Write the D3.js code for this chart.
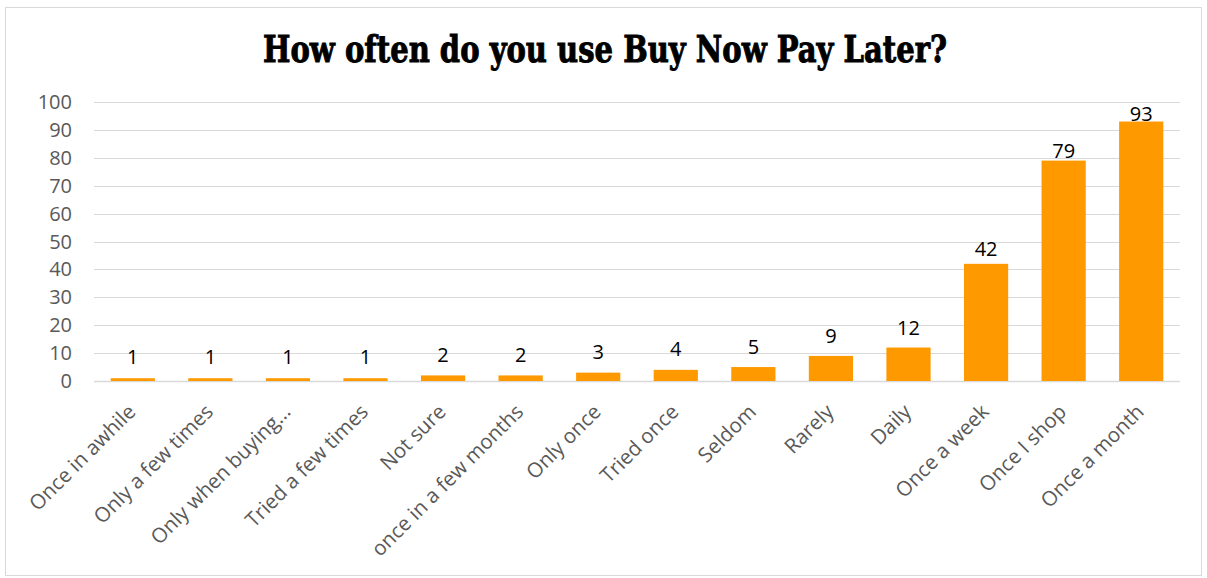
<!DOCTYPE html>
<html>
<head>
<meta charset="utf-8">
<script src="https://cdn.jsdelivr.net/npm/d3@7"></script>
<style>
  body { margin: 0; background: #fff; }
  svg { display: block; }
</style>
</head>
<body>
<div id="chart"></div>
<script>
// data
const categories = ["Once in awhile", "Only a few times", "Only when buying...", "Tried a few times",
  "Not sure", "once in a few months", "Only once", "Tried once", "Seldom", "Rarely", "Daily",
  "Once a week", "Once I shop", "Once a month"];
const counts = [1, 1, 1, 1, 2, 2, 3, 4, 5, 9, 12, 42, 79, 93];
const yTicks = [0, 10, 20, 30, 40, 50, 60, 70, 80, 90, 100];

const width = 1207, height = 578;
const margin = {top: 102, right: 27, bottom: 197, left: 94};

const svg = d3.select("#chart").append("svg")
    .attr("width", width)
    .attr("height", height);

// chart border
svg.append("rect")
    .attr("x", 5.5).attr("y", 7.5)
    .attr("width", width - 11).attr("height", height - 10)
    .attr("fill", "none")
    .attr("stroke", "#d9d9d9");

svg.append("text")
    .attr("x", 605).attr("y", 62)
    .attr("text-anchor", "middle")
    .attr("textLength", 684)
    .attr("lengthAdjust", "spacingAndGlyphs")
    .attr("stroke", "#000")
    .attr("stroke-width", 0.9)
    .style("font-family", "'DejaVu Serif Condensed', 'DejaVu Serif', serif")
    .style("font-weight", "bold")
    .style("font-size", "37px")
    .text("How often do you use Buy Now Pay Later?");

const x = d3.scaleBand()
    .domain(categories)
    .range([margin.left, width - margin.right])
    .paddingInner(0.43)
    .paddingOuter(0.215);

const y = d3.scaleLinear()
    .domain([0, 100])
    .range([height - margin.bottom, margin.top]);

// the value labels in the picture sit on a slightly squeezed scale
const yLabel = d3.scaleLinear()
    .domain([0, 100])
    .range([367, 102]);

// gridlines
svg.append("g")
    .selectAll("line").data(yTicks)
    .enter().append("line")
    .attr("x1", margin.left).attr("x2", width - margin.right)
    .attr("y1", d => Math.round(y(d)) + 0.5).attr("y2", d => Math.round(y(d)) + 0.5)
    .attr("stroke", "#d9d9d9")
    .attr("stroke-width", d => d === 0 ? 1.5 : 1);

// y labels
svg.append("g")
    .selectAll("text").data(yTicks)
    .enter().append("text")
    .attr("x", 72)
    .attr("y", d => y(d) + 7)
    .attr("text-anchor", "end")
    .attr("fill", "#595959")
    .style("font-family", "'Open Sans', sans-serif")
    .style("font-size", "20px")
    .text(d => d);

// bars
svg.append("g")
    .selectAll("rect").data(counts)
    .enter().append("rect")
    .attr("x", (d, i) => x(categories[i]))
    .attr("y", d => y(d))
    .attr("width", x.bandwidth())
    .attr("height", d => y(0) - y(d))
    .attr("fill", "#ff9900");

// value labels
svg.append("g")
    .selectAll("text").data(counts)
    .enter().append("text")
    .attr("x", (d, i) => x(categories[i]) + x.bandwidth() / 2)
    .attr("y", d => yLabel(d))
    .attr("text-anchor", "middle")
    .attr("fill", "#000")
    .style("font-family", "'Open Sans', sans-serif")
    .style("font-size", "20px")
    .text(d => d);

// category labels
svg.append("g")
    .selectAll("text").data(categories)
    .enter().append("text")
    .attr("transform", d => "translate(" + (x(d) + x.bandwidth() / 2 + 4) + "," + (y(0) + 32) + ") rotate(-45)")
    .attr("text-anchor", "end")
    .attr("fill", "#595959")
    .style("font-family", "'Open Sans', sans-serif")
    .style("font-size", "20.5px")
    .text(d => d);
</script>
</body>
</html>
